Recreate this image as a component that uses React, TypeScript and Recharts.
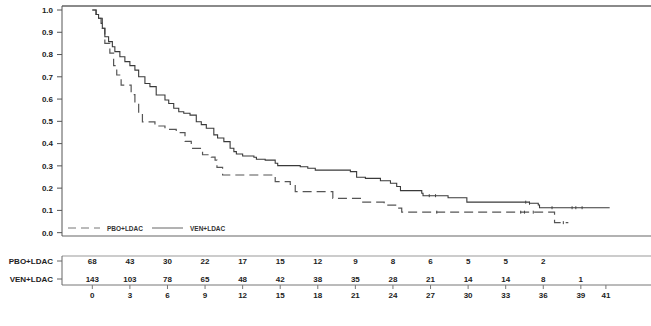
import React from "react";
import { ComposedChart, Line, Scatter, XAxis, YAxis, ReferenceLine } from "recharts";

// months on the x axis
const monthTicks = [0, 3, 6, 9, 12, 15, 18, 21, 24, 27, 30, 33, 36, 39, 41];
const survTicks = [0, 0.1, 0.2, 0.3, 0.4, 0.5, 0.6, 0.7, 0.8, 0.9, 1.0];

// VEN+LDAC Kaplan-Meier steps
const venMonths = [0, 0.3, 0.5, 0.7, 0.8, 1.0, 1.3, 1.6, 1.8, 2.2, 2.6, 3.0, 3.4, 3.7, 4.2, 4.6, 5.1, 5.8, 6.1, 6.5, 6.9, 7.3, 7.8, 8.3, 8.7, 9.1, 9.7, 10.0, 10.5, 11.0, 11.3, 11.5, 12.0, 12.9, 13.1, 13.8, 14.6, 14.8, 16.6, 17.2, 17.8, 20.6, 21.1, 21.8, 23.0, 23.8, 24.3, 24.6, 26.3, 26.4, 28.4, 29.9, 34.9, 35.6, 35.7, 41.3];
const venSurv = [1.0, 0.98, 0.963, 0.94, 0.918, 0.88, 0.858, 0.835, 0.813, 0.79, 0.768, 0.75, 0.73, 0.7, 0.67, 0.656, 0.618, 0.596, 0.58, 0.559, 0.543, 0.536, 0.528, 0.498, 0.485, 0.469, 0.439, 0.425, 0.409, 0.379, 0.364, 0.353, 0.344, 0.339, 0.33, 0.326, 0.312, 0.301, 0.296, 0.289, 0.281, 0.274, 0.249, 0.244, 0.233, 0.222, 0.207, 0.189, 0.177, 0.166, 0.157, 0.137, 0.132, 0.124, 0.112, 0.112];
const venCensored = [26.9, 27.4, 34.6, 34.9, 36.7, 38.3, 38.6, 39.1];

// PBO+LDAC Kaplan-Meier steps
const pboMonths = [0, 0.3, 0.5, 0.8, 1.0, 1.4, 1.7, 1.95, 2.3, 3.1, 3.4, 3.7, 4.0, 5.0, 5.8, 6.7, 7.4, 7.9, 8.8, 9.5, 9.8, 9.95, 10.4, 14.6, 15.8, 16.2, 19.2, 21.4, 23.3, 24.4, 24.7, 36.9, 38.0];
const pboSurv = [1.0, 0.98, 0.963, 0.918, 0.85, 0.806, 0.75, 0.708, 0.663, 0.62, 0.58, 0.536, 0.498, 0.479, 0.464, 0.449, 0.41, 0.379, 0.35, 0.339, 0.326, 0.293, 0.259, 0.229, 0.217, 0.184, 0.154, 0.137, 0.124, 0.11, 0.092, 0.045, 0.045];
const pboCensored = [27.5, 34.2, 34.5, 35.2, 37.6];

// numbers at risk
const riskMonths = [0, 3, 6, 9, 12, 15, 18, 21, 24, 27, 30, 33, 36, 39];
const pboAtRisk = [68, 43, 30, 22, 17, 15, 12, 9, 8, 6, 5, 5, 2];
const venAtRisk = [143, 103, 78, 65, 48, 42, 38, 35, 28, 21, 14, 14, 8, 1];

const xDomain = [-2.42, 44.6];
const font = "'Liberation Sans', Arial, sans-serif";
const tickStyle = { fontSize: 8, fontWeight: 700, fill: "#222", fontFamily: font };

const steps = (ts: number[], ss: number[]) => ts.map((t, i) => ({ t, s: ss[i] }));
const survAt = (ts: number[], ss: number[], x: number) => {
  let v = ss[0];
  ts.forEach((t, i) => {
    if (t <= x) v = ss[i];
  });
  return v;
};

const venData = steps(venMonths, venSurv);
const pboData = steps(pboMonths, pboSurv);
const venCens = venCensored.map((t) => ({ t, s: survAt(venMonths, venSurv, t) }));
const pboCens = pboCensored.map((t) => ({ t, s: survAt(pboMonths, pboSurv, t) }));

const PBO_ROW = 24;
const VEN_ROW = 6;
const pboRisk = pboAtRisk.map((n, i) => ({ t: riskMonths[i], y: PBO_ROW, n }));
const venRisk = venAtRisk.map((n, i) => ({ t: riskMonths[i], y: VEN_ROW, n }));

const CensorTick = (props: any) => {
  const { cx, cy } = props;
  if (cx == null || cy == null) return null;
  return <line x1={cx} x2={cx} y1={cy - 1.5} y2={cy + 1.5} stroke="#444" strokeWidth={1} />;
};

const RiskCell = (props: any) => {
  const { cx, cy, payload } = props;
  if (cx == null || cy == null) return null;
  return (
    <text x={cx} y={cy} textAnchor="middle" dominantBaseline="central" style={tickStyle}>
      {payload.n}
    </text>
  );
};

function KmLegend() {
  return (
    <svg width={200} height={14} style={{ position: "absolute", left: 62, top: 221 }}>
      <line x1={6} x2={38} y1={7} y2={7} stroke="#777" strokeWidth={1} strokeDasharray="8 5" />
      <text x={45} y={7} dominantBaseline="central" style={{ fontSize: 6.5, fontWeight: 700, fill: "#333", fontFamily: font }}>
        PBO+LDAC
      </text>
      <line x1={90} x2={121} y1={7} y2={7} stroke="#666" strokeWidth={1} />
      <text x={128} y={7} dominantBaseline="central" style={{ fontSize: 6.5, fontWeight: 700, fill: "#333", fontFamily: font }}>
        VEN+LDAC
      </text>
    </svg>
  );
}

export default function App() {
  return (
    <div style={{ position: "absolute", left: 0, top: 0, width: 651, height: 326, background: "#fff", overflow: "hidden" }}>
      <ComposedChart width={651} height={240} margin={{ top: 6, right: 0, bottom: 4, left: 0 }}>
        <XAxis type="number" dataKey="t" domain={xDomain} allowDataOverflow hide />
        <YAxis
          type="number"
          domain={[-0.015, 1.018]}
          ticks={survTicks}
          allowDataOverflow
          width={62}
          tickFormatter={(v: number) => v.toFixed(1)}
          tick={tickStyle}
          tickSize={5}
          tickMargin={4}
          axisLine={{ stroke: "#555" }}
          tickLine={{ stroke: "#555" }}
        />
        <ReferenceLine y={1.018} stroke="#8a8a8a" strokeWidth={2} ifOverflow="visible" />
        <ReferenceLine y={-0.015} stroke="#999" strokeWidth={1.5} ifOverflow="visible" />
        <Line data={pboData} dataKey="s" type="stepAfter" stroke="#555" strokeWidth={1.2} strokeDasharray="9 5" dot={false} isAnimationActive={false} />
        <Line data={venData} dataKey="s" type="stepAfter" stroke="#3a3a3a" strokeWidth={1.1} dot={false} isAnimationActive={false} />
        <Scatter data={venCens} dataKey="s" shape={<CensorTick />} isAnimationActive={false} />
        <Scatter data={pboCens} dataKey="s" shape={<CensorTick />} isAnimationActive={false} />
      </ComposedChart>
      <KmLegend />
      <ComposedChart width={651} height={86} margin={{ top: 16, right: 0, bottom: 0, left: 0 }}>
        <XAxis
          type="number"
          dataKey="t"
          domain={xDomain}
          ticks={monthTicks}
          allowDataOverflow
          height={41}
          tick={tickStyle}
          tickSize={4}
          tickMargin={3}
          axisLine={{ stroke: "#777" }}
          tickLine={{ stroke: "#777" }}
        />
        <YAxis
          type="number"
          dataKey="y"
          domain={[0, 29]}
          ticks={[VEN_ROW, PBO_ROW]}
          width={62}
          tickFormatter={(v: number) => (v === PBO_ROW ? "PBO+LDAC" : "VEN+LDAC")}
          tick={tickStyle}
          tickSize={5}
          tickMargin={4}
          axisLine={{ stroke: "#666" }}
          tickLine={{ stroke: "#666" }}
        />
        <ReferenceLine y={29} stroke="#999" strokeWidth={1.2} ifOverflow="visible" />
        <Scatter data={pboRisk} dataKey="y" shape={<RiskCell />} isAnimationActive={false} />
        <Scatter data={venRisk} dataKey="y" shape={<RiskCell />} isAnimationActive={false} />
      </ComposedChart>
    </div>
  );
}
